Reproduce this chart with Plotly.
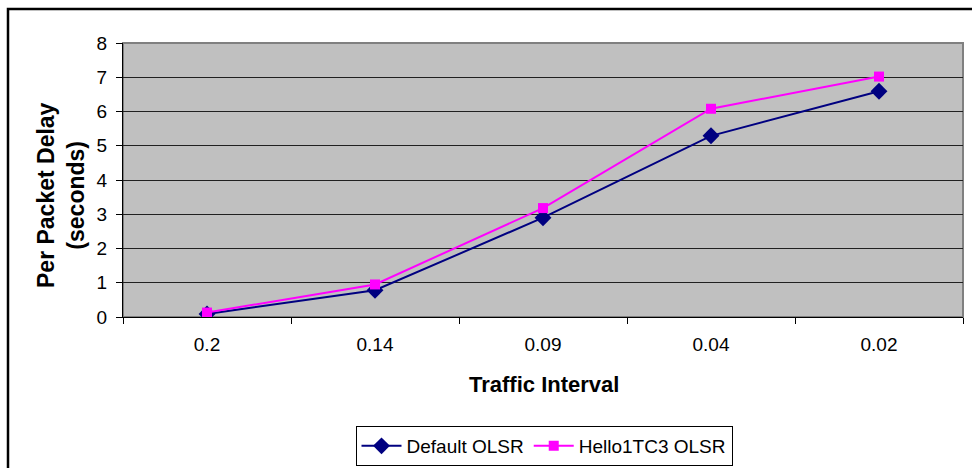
import plotly.graph_objects as go

# Traffic interval categories (seconds between packets)
intervals = ["0.2", "0.14", "0.09", "0.04", "0.02"]
# Per packet delay (seconds)
default_olsr = [0.09, 0.78, 2.90, 5.29, 6.59]
hello1tc3_olsr = [0.13, 0.95, 3.18, 6.08, 7.02]
y_ticks = [0, 1, 2, 3, 4, 5, 6, 7, 8]

W, H = 972, 468
L, R, T, B = 123, 9, 43, 151
pw, ph = W - L - R, H - T - B


def px_x(x):
    return (x - L) / pw


def px_y(y):
    return (H - B - y) / ph


font_family = "Arial, Liberation Sans, sans-serif"

fig = go.Figure()
fig.add_trace(go.Scatter(
    x=intervals, y=default_olsr, name="Default OLSR", mode="lines+markers",
    line=dict(color="#000080", width=2),
    marker=dict(symbol="diamond", size=13, color="#000080"),
))
fig.add_trace(go.Scatter(
    x=intervals, y=hello1tc3_olsr, name="Hello1TC3 OLSR", mode="lines+markers",
    line=dict(color="#FF00FF", width=2),
    marker=dict(symbol="square", size=10, color="#FF00FF"),
))

fig.update_layout(
    width=W, height=H, autosize=False,
    margin=dict(l=L, r=R, t=T, b=B, autoexpand=False),
    paper_bgcolor="white", plot_bgcolor="#C0C0C0",
    font=dict(family=font_family, size=19, color="black"),
    showlegend=True,
    legend=dict(
        orientation="h", x=px_x(544), xanchor="center", y=px_y(426), yanchor="top",
        bordercolor="black", borderwidth=1, bgcolor="white",
        font=dict(size=19), itemwidth=40,
    ),
    xaxis=dict(
        type="category", categoryorder="array", categoryarray=intervals,
        range=[-0.5, len(intervals) - 0.5],
        showgrid=False, zeroline=False, automargin=False,
        showline=True, linecolor="black", linewidth=1,
        ticks="outside", tickson="boundaries", ticklen=6, tickcolor="black",
        ticklabelstandoff=10,
    ),
    yaxis=dict(
        range=[0, 8], tickvals=y_ticks, automargin=False,
        showgrid=True, gridcolor="#202020", gridwidth=1, zeroline=False,
        showline=True, linecolor="black", linewidth=1,
        ticks="outside", ticklen=6, tickcolor="black",
        ticklabelstandoff=5,
    ),
    shapes=[
        # plot area frame
        dict(type="rect", xref="paper", yref="paper", x0=0, x1=1, y0=0, y1=1,
             line=dict(color="#808080", width=2), layer="below"),
        # outer chart frame
        dict(type="rect", xref="paper", yref="paper",
             x0=px_x(8), x1=px_x(990), y0=px_y(490), y1=px_y(9),
             line=dict(color="black", width=2.5)),
    ],
    annotations=[
        dict(text="<b>Per Packet Delay</b><br><b>(seconds)</b>", textangle=-90,
             xref="paper", yref="paper", x=px_x(61), y=px_y(195),
             xanchor="center", yanchor="middle", showarrow=False,
             font=dict(size=23)),
        dict(text="<b>Traffic Interval</b>",
             xref="paper", yref="paper", x=px_x(544), y=px_y(384),
             xanchor="center", yanchor="middle", showarrow=False,
             font=dict(size=22)),
    ],
)

fig.write_html("out.html")
